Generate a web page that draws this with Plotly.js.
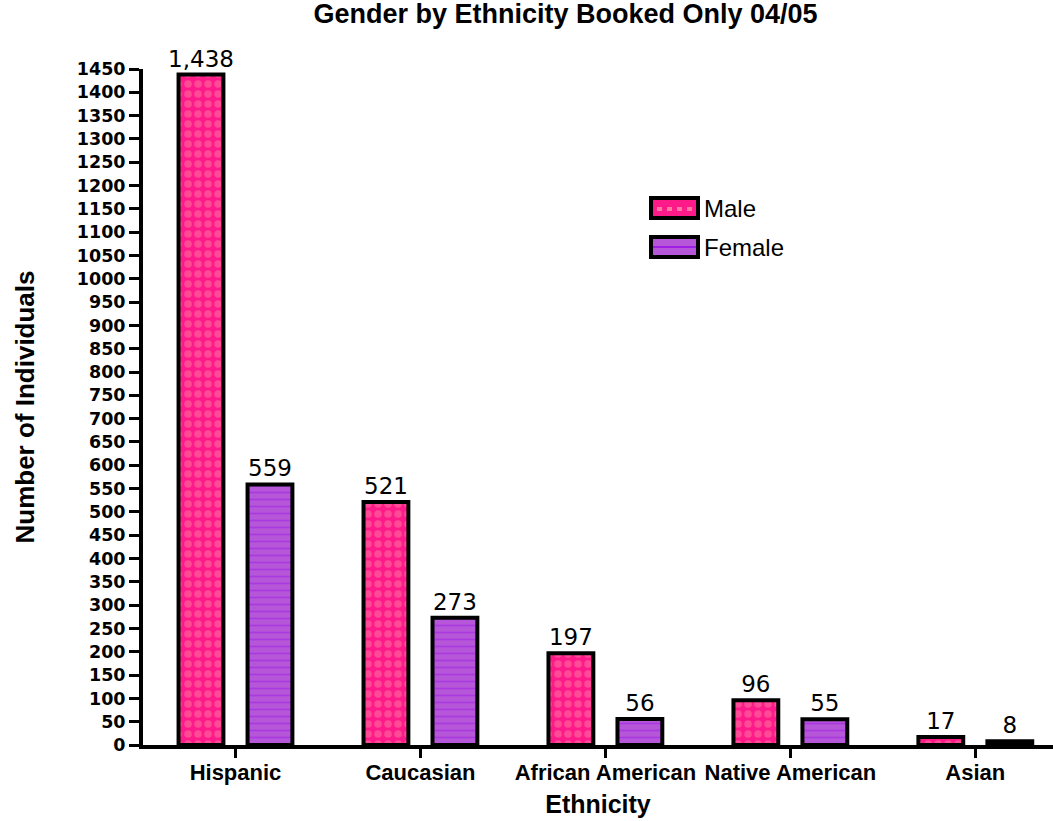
<!DOCTYPE html>
<html>
<head>
<meta charset="utf-8">
<script src="https://cdn.plot.ly/plotly-3.0.1.min.js"></script>
<style>html,body{margin:0;padding:0;background:#fff;}#chart{width:1053px;height:821px;}</style>
</head>
<body>
<div id="chart"></div>
<script>
const categories = ["Hispanic", "Caucasian", "African American", "Native American", "Asian"];
const maleValues = [1438, 521, 197, 96, 17];
const femaleValues = [559, 273, 56, 55, 8];
const seriesNames = ["Male", "Female"];
const yTickValues = [];
for (let v = 0; v <= 1450; v += 50) yTickValues.push(v);

const maleColor = "#FF1A8A", maleCheck = "#FF7AA0";
const femaleColor = "#B657D9", femaleLine = "#9E1EE6";

const helv = "Liberation Sans, Arial, sans-serif";
const wide = "DejaVu Sans, sans-serif";
const labelFont = {family: wide, size: 23, color: "#000"};

const traces = [
  {
    type: "bar", name: seriesNames[0], x: categories, y: maleValues,
    texttemplate: "%{y:,d}", textposition: "outside", constraintext: "none",
    textfont: labelFont, cliponaxis: false, showlegend: false,
    marker: {
      color: maleColor,
      line: {color: "#000", width: 4},
      pattern: {shape: ".", fgcolor: maleCheck, bgcolor: maleColor, size: 10, solidity: 0.45, fillmode: "overlay"}
    }
  },
  {
    type: "bar", name: seriesNames[1], x: categories, y: femaleValues,
    texttemplate: "%{y:,d}", textposition: "outside", constraintext: "none",
    textfont: labelFont, cliponaxis: false, showlegend: false,
    marker: {
      color: femaleColor,
      line: {color: "#000", width: 4},
      pattern: {shape: "-", fgcolor: femaleLine, bgcolor: femaleColor, size: 7, solidity: 0.25, fillmode: "overlay"}
    }
  }
];

// legend drawn in paper coordinates (plot area: x 143..1053, y 69..745 px)
const PX0 = 143, PW = 910, PY1 = 745, PH = 676;
const px = v => (v - PX0) / PW;
const py = v => (PY1 - v) / PH;
const legendItems = [
  {name: seriesNames[0], fill: maleColor, accent: maleCheck, top: 198, bottom: 218},
  {name: seriesNames[1], fill: femaleColor, accent: femaleLine, top: 237, bottom: 257}
];
const shapes = [], annotations = [];
legendItems.forEach((it, i) => {
  shapes.push({type: "rect", xref: "paper", yref: "paper", x0: px(651), x1: px(698), y0: py(it.bottom), y1: py(it.top),
    fillcolor: it.fill, line: {color: "#000", width: 4}});
  if (i === 0) {
    for (let k = 0; k < 4; k++) {
      shapes.push({type: "rect", xref: "paper", yref: "paper", x0: px(657 + k * 10), x1: px(662 + k * 10), y0: py(207), y1: py(211),
        fillcolor: it.accent, line: {width: 0}});
    }
  } else {
    shapes.push({type: "line", xref: "paper", yref: "paper", x0: px(653), x1: px(696), y0: py(247), y1: py(247),
      line: {color: it.accent, width: 2}});
  }
  annotations.push({xref: "paper", yref: "paper", x: px(702), y: py((it.top + it.bottom) / 2), xanchor: "left", yanchor: "middle",
    text: it.name, showarrow: false, font: {family: helv, size: 24, color: "#000"}});
});

const layout = {
  width: 1053, height: 821,
  margin: {l: 143, r: 0, t: 69, b: 76},
  paper_bgcolor: "#fff", plot_bgcolor: "#fff",
  font: {family: helv, color: "#000"},
  title: {text: "<b>Gender by Ethnicity Booked Only 04/05</b>", font: {family: helv, size: 27, color: "#000"},
    x: 0.537, xanchor: "center", y: 0.984, yanchor: "middle"},
  barmode: "group", bargap: 0.254, bargroupgap: 0.35,
  showlegend: false,
  shapes: shapes, annotations: annotations,
  xaxis: {
    range: [-0.5, 4.42], showgrid: false, zeroline: false,
    showline: true, linecolor: "#000", linewidth: 4,
    ticks: "outside", ticklen: 9, tickwidth: 3, tickcolor: "#000", tickangle: 0,
    ticklabelstandoff: -4,
    tickfont: {family: helv, size: 22, color: "#000", weight: "bold"},
    title: {text: "<b>Ethnicity</b>", font: {family: helv, size: 25, color: "#000"}, standoff: 12}
  },
  yaxis: {
    range: [0, 1450], showgrid: false, zeroline: false,
    showline: true, linecolor: "#000", linewidth: 4,
    ticks: "outside", ticklen: 10, tickwidth: 3, tickcolor: "#000",
    tickvals: yTickValues, ticktext: yTickValues.map(String),
    tickfont: {family: wide, size: 17.5, color: "#000", weight: "bold"},
    title: {text: "<b>Number of Individuals</b>", font: {family: helv, size: 26, color: "#000"}, standoff: 36}
  }
};

Plotly.newPlot("chart", traces, layout, {displayModeBar: false, staticPlot: true});
</script>
</body>
</html>
